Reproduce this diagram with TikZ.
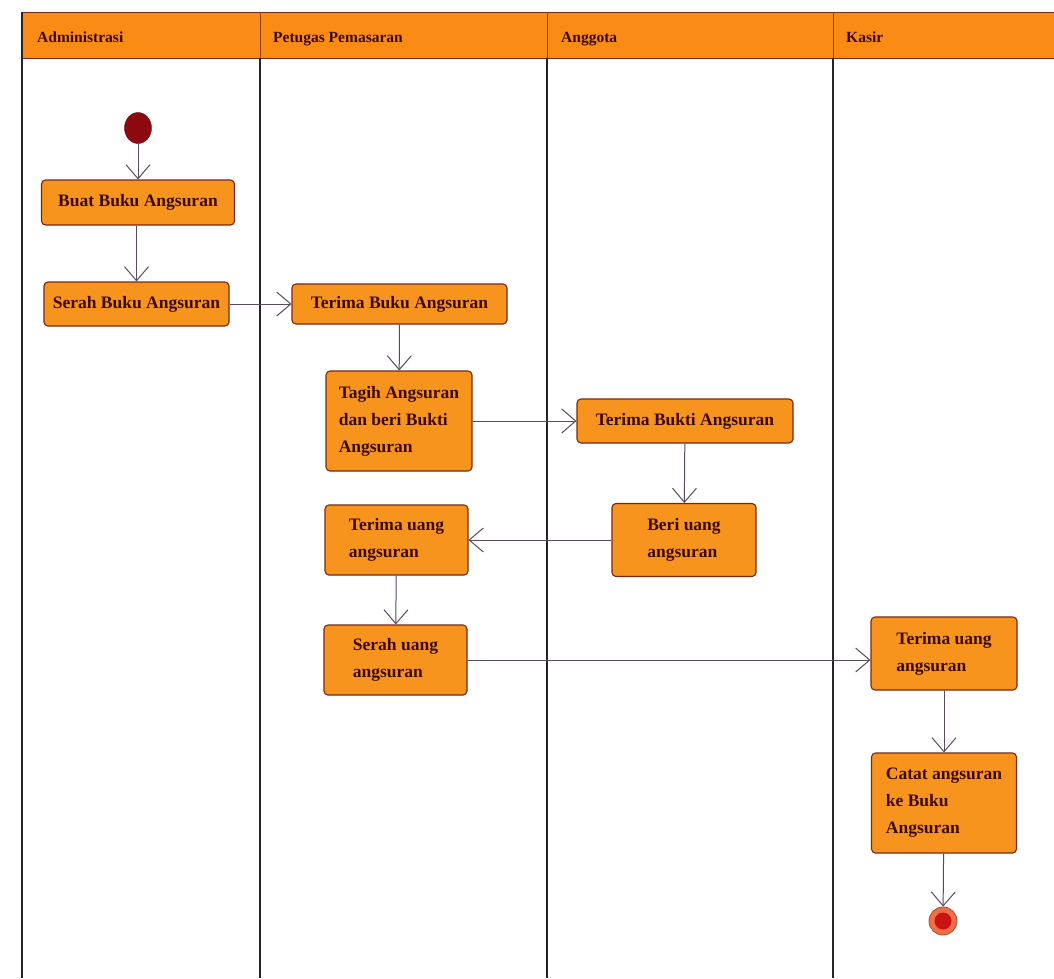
\documentclass[tikz,border=0pt]{standalone}
\usepackage{fontspec}
\setmainfont{Liberation Serif}
\usetikzlibrary{arrows.meta,shapes.geometric}
\definecolor{boxfill}{RGB}{247,148,30}
\definecolor{hdrfill}{RGB}{250,140,22}
\definecolor{boxdraw}{RGB}{120,40,20}
\definecolor{txt}{RGB}{60,10,10}
\definecolor{lane}{RGB}{40,35,40}
\definecolor{arr}{RGB}{90,75,95}
\definecolor{startc}{RGB}{140,10,15}
\definecolor{endring}{RGB}{240,110,70}
\definecolor{endin}{RGB}{200,20,20}
\tikzset{
  act/.style={draw=boxdraw, line width=1.1pt, fill=boxfill, rounded corners=4pt,
    text=txt, font=\bfseries\fontsize{17.5}{27}\selectfont, align=left, inner sep=0pt},
  flow/.style={draw=arr, line width=1pt, -{Straight Barb[length=14pt,width=24pt,line width=1pt]}},
  lanetitle/.style={text=txt, font=\bfseries\fontsize{15.5}{17}\selectfont, anchor=base west, inner sep=0pt},
  laneline/.style={draw=lane, line width=1.1pt}
}
\begin{document}
\begin{tikzpicture}[x=1pt,y=-1pt]
\useasboundingbox (0,0) rectangle (1054,978);
\fill[white] (0,0) rectangle (1054,978);
% header
\fill[hdrfill] (22,12) rectangle (1054,58);
\draw[boxdraw, line width=1pt] (22,12) -- (1054,12);
\draw[boxdraw, line width=1pt] (22,58) -- (1054,58);
\draw[boxdraw!80!hdrfill, line width=0.8pt] (260,12) -- (260,58) (547,12) -- (547,58) (833,12) -- (833,58);
\node[lanetitle] (h1) at (37,42) {Administrasi};
\node[lanetitle] (h2) at (273,42) {Petugas Pemasaran};
\node[lanetitle] (h3) at (561,42) {Anggota};
\node[lanetitle] (h4) at (846,42) {Kasir};
% lanes
\draw[laneline] (22,12) -- (22,978);
\draw[laneline] (260,58) -- (260,978);
\draw[laneline] (547,58) -- (547,978);
\draw[laneline] (833,58) -- (833,978);
% nodes
\node[ellipse, fill=startc, draw=startc!70!black, minimum width=27pt, minimum height=31pt, inner sep=0pt] (start) at (138,128) {};
\node[act, minimum width=193pt, minimum height=45pt] (buat) at (138,202.5) {Buat Buku Angsuran};
\node[act, minimum width=185pt, minimum height=44pt] (serah) at (136.5,304) {Serah Buku Angsuran};
\node[act, minimum width=215pt, minimum height=40pt] (tbuku) at (399.5,304) {Terima Buku Angsuran};
\node[act, minimum width=146pt, minimum height=100pt] (tagih) at (399,421) {Tagih Angsuran\\dan beri Bukti\\Angsuran};
\node[act, minimum width=216pt, minimum height=44pt] (tbukti) at (685,421) {Terima Bukti Angsuran};
\node[act, minimum width=144pt, minimum height=73pt] (beri) at (684,540) {Beri uang\\angsuran};
\node[act, minimum width=143pt, minimum height=70pt] (tuang) at (396.5,540) {Terima uang\\angsuran};
\node[act, minimum width=143pt, minimum height=70pt] (suang) at (395.5,660) {Serah uang\\angsuran};
\node[act, minimum width=146pt, minimum height=73pt] (kuang) at (944,653.5) {Terima uang\\angsuran};
\node[act, minimum width=145pt, minimum height=100pt] (catat) at (944,803) {Catat angsuran\\ke Buku\\Angsuran};
\node[circle, fill=endring, draw=endring!70!black, line width=0.8pt, minimum size=28pt, inner sep=0pt] (end) at (943,921) {};
\node[circle, fill=endin, minimum size=17pt, inner sep=0pt] (endc) at (end.center) {};
% flows
\draw[flow] (start) -- (buat);
\draw[flow] (buat.south -| serah.north) -- (serah);
\draw[flow] (serah) -- (tbuku);
\draw[flow] (tbuku) -- (tagih);
\draw[flow] (tagih) -- (tbukti);
\draw[flow] (tbukti) -- (beri);
\draw[flow] (beri) -- (tuang);
\draw[flow] (tuang) -- (suang);
\draw[flow] (suang.east) -- (suang.east -| kuang.west);
\draw[flow] (kuang) -- (catat);
\draw[flow] (catat) -- (end);
\end{tikzpicture}
\end{document}
